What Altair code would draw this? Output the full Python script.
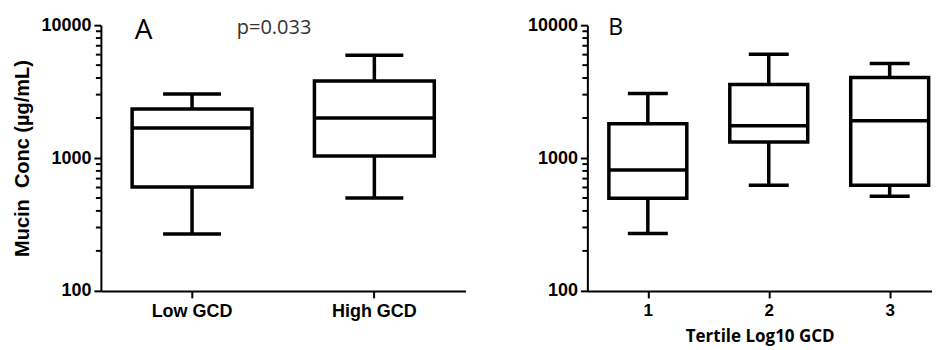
import altair as alt
import pandas as pd

# Panel A: box-plot summary by GCD group
groups_a = ["Low GCD", "High GCD"]
a_low = [268, 500]
a_q1 = [605, 1035]
a_median = [1682, 2000]
a_q3 = [2335, 3793]
a_high = [3027, 5946]

# Panel B: box-plot summary by tertile of log10 GCD
tertiles = [1, 2, 3]
b_low = [270, 624, 515]
b_q1 = [498, 1322, 624]
b_median = [811, 1748, 1905]
b_q3 = [1810, 3573, 4036]
b_high = [3055, 6030, 5156]

y_major = [100, 1000, 10000]
y_minor = [200, 300, 400, 500, 600, 700, 800, 900,
           2000, 3000, 4000, 5000, 6000, 7000, 8000, 9000]

df_a = pd.DataFrame({"group": groups_a, "low": a_low, "q1": a_q1,
                     "median": a_median, "q3": a_q3, "high": a_high})
df_b = pd.DataFrame({"tertile": tertiles, "low": b_low, "q1": b_q1,
                     "median": b_median, "q3": b_q3, "high": b_high})
df_minor = pd.DataFrame({"v": y_minor})

ysc = alt.Scale(type="log", domain=[100, 10000], nice=False)

NUM_FONT = "Liberation Sans"
LW = 3.5


def y_axis(title):
    kw = dict(
        orient="left", values=y_major, format="d", tickSize=7,
        labelFont=NUM_FONT, labelFontWeight="bold", labelFontSize=18,
        labelPadding=3,
    )
    if title:
        kw.update(title=title, titleFont=NUM_FONT, titleFontWeight="bold",
                  titleFontSize=20, titlePadding=8)
    else:
        kw.update(title=None)
    return alt.Axis(**kw)


def panel(df, xenc, yax, box_w, cap_w, letter, letter_size, letter_x, letter_y):
    base = alt.Chart(df)
    # minor ticks of the log axis, placed through the y scale
    minor = alt.Chart(df_minor).mark_rule(color="black", strokeWidth=2).encode(
        x=alt.value(-5), x2=alt.value(0),
        y=alt.Y("v:Q", scale=ysc, axis=None))
    whisk = base.mark_rule(color="black", strokeWidth=LW).encode(
        x=xenc, y=alt.Y("low:Q", scale=ysc, axis=yax), y2="high:Q")
    box = base.mark_bar(size=box_w, fill="white", stroke="black",
                        strokeWidth=LW).encode(
        x=xenc, y=alt.Y("q1:Q", scale=ysc, axis=None), y2="q3:Q")
    med = base.mark_tick(size=box_w, thickness=LW, color="black",
                         orient="horizontal", opacity=1).encode(
        x=xenc, y=alt.Y("median:Q", scale=ysc, axis=None))
    caps = base.transform_fold(["low", "high"], as_=["k", "v"]).mark_tick(
        size=cap_w, thickness=LW, color="black", orient="horizontal",
        opacity=1).encode(
        x=xenc, y=alt.Y("v:Q", scale=ysc, axis=None))
    lab = alt.Chart(pd.DataFrame({"t": [letter]})).mark_text(
        font="Open Sans", fontSize=letter_size, align="left",
        baseline="alphabetic", color="black").encode(
        x=alt.value(letter_x), y=alt.value(letter_y), text="t:N")
    return [whisk, box, med, caps, minor, lab]


xa = alt.X("group:N", sort=groups_a,
           scale=alt.Scale(paddingInner=0, paddingOuter=0),
           axis=alt.Axis(title=None, labelAngle=0, tickSize=7,
                         labelFont=NUM_FONT, labelFontWeight="bold",
                         labelFontSize=18, labelPadding=5))
layers_a = panel(df_a, xa, y_axis("Mucin\u00a0 Conc (µg/mL)"), 120, 58,
                 "A", 28, 34, 14)
pval = alt.Chart(pd.DataFrame({"t": ["p=0.033"]})).mark_text(
    font="Open Sans", fontSize=20, align="left", baseline="alphabetic",
    color="#333333").encode(x=alt.value(136), y=alt.value(9), text="t:N")
chart_a = alt.layer(*layers_a, pval).resolve_scale(y="shared").resolve_axis(
    y="independent").properties(width=365, height=266)

xb = alt.X("tertile:Q",
           scale=alt.Scale(domain=[0.5, 3.35], nice=False, zero=False,
                           padding=0),
           axis=alt.Axis(values=tertiles, format="d", tickSize=7,
                         labelFont=NUM_FONT, labelFontWeight="bold",
                         labelFontSize=17, labelPadding=5,
                         title="Tertile Log10 GCD", titleFont="Open Sans",
                         titleFontWeight="bold", titleFontSize=17,
                         titlePadding=10))
layers_b = panel(df_b, xb, y_axis(None), 78, 40, "B", 23, 21, 10)
chart_b = alt.layer(*layers_b).resolve_scale(y="shared").resolve_axis(
    y="independent").properties(width=345, height=266)

chart = alt.hconcat(chart_a, chart_b, spacing=61).properties(
    padding={"left": 4, "top": 8, "right": 0, "bottom": 4}
).configure_axis(
    domainColor="black", domainWidth=2, tickColor="black", tickWidth=2,
    labelColor="black", titleColor="black", grid=False
).configure_view(stroke=None)

chart.save("out.html", embed_options={"renderer": "svg", "actions": False})
